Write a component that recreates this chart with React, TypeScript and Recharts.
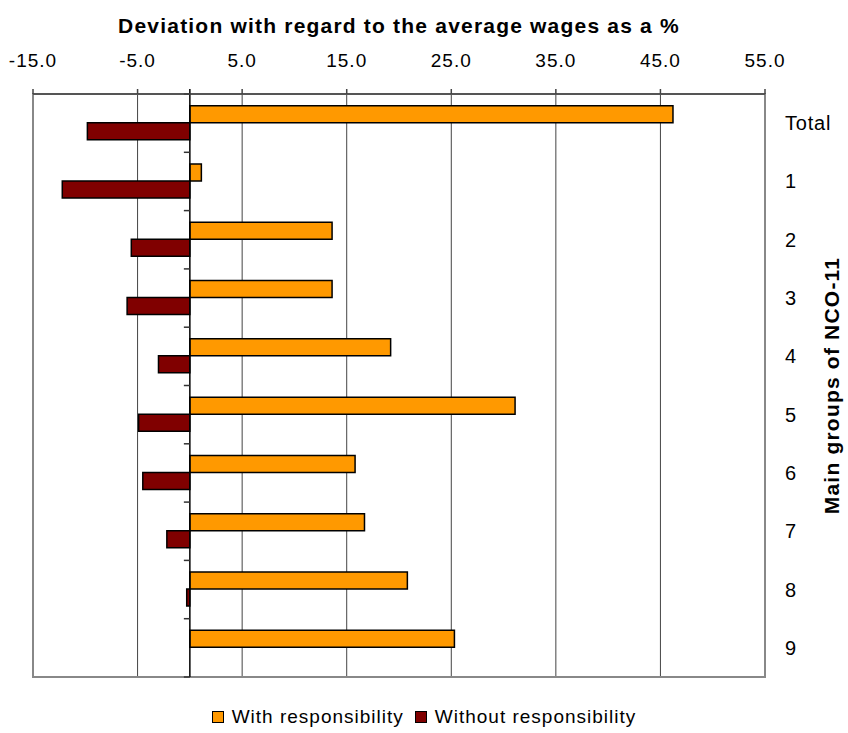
import React from 'react';
import { BarChart, Bar, XAxis, YAxis, CartesianGrid, Legend, ReferenceLine, ReferenceArea, Label } from 'recharts';

const categories = ['Total', '1', '2', '3', '4', '5', '6', '7', '8', '9'];
const withResponsibility = [46.2, 1.1, 13.6, 13.6, 19.2, 31.1, 15.8, 16.7, 20.8, 25.3];
const withoutResponsibility: (number | null)[] = [-9.8, -12.2, -5.6, -6.0, -3.0, -4.9, -4.5, -2.2, -0.3, null];
const xTicks = [-15, -5, 5, 15, 25, 35, 45, 55];
const seriesNames = ['With responsibility', 'Without responsibility'];
const seriesColors = ['#FF9900', '#800000'];

const xTitle = 'Deviation with regard to the average wages as a %';
const yTitle = 'Main groups of NCO-11';

const data = categories.map((name, i) => ({
  name,
  withResp: withResponsibility[i],
  withoutResp: withoutResponsibility[i],
}));

const FONT = '"Liberation Sans", Arial, sans-serif';

// zero line with short tick marks at the category boundaries
const ZeroAxis = (props: any) => {
  const { x1, y1, y2 } = props;
  const step = (y2 - y1) / categories.length;
  const marks = [];
  for (let i = 0; i <= categories.length; i++) {
    const y = y1 + i * step;
    marks.push(<line key={i} x1={x1 - 6} y1={y} x2={x1} y2={y} stroke="#333" strokeWidth={1.5} />);
  }
  return (
    <g>
      <line x1={x1} y1={y1 - 5} x2={x1} y2={y2} stroke="#000" strokeWidth={1.5} />
      {marks}
    </g>
  );
};

const CategoryTick = (props: any) => {
  const { x, y, payload } = props;
  return (
    <text x={x + 20} y={y} dy={7} textAnchor="start" fontSize={20} letterSpacing={0.8} fill="#000" fontFamily={FONT}>
      {payload.value}
    </text>
  );
};

const renderLegend = () => (
  <div style={{ display: 'flex', justifyContent: 'center', alignItems: 'center', fontSize: 19, letterSpacing: 1, fontFamily: FONT, height: 22, color: '#000' }}>
    {seriesNames.map((n, i) => (
      <span key={n} style={{ display: 'flex', alignItems: 'center', marginRight: i === 0 ? 11 : 0 }}>
        <span style={{ width: 10, height: 10, background: seriesColors[i], border: '1.5px solid #000', marginRight: 8 }} />
        {n}
      </span>
    ))}
  </div>
);

export default function App() {
  return (
    <div style={{ position: 'absolute', left: 0, top: 0, background: '#fff' }}>
      <BarChart
        width={848}
        height={733}
        data={data}
        layout="vertical"
        margin={{ top: 0, right: 0, left: 33, bottom: 34 }}
        barCategoryGap="20%"
        barGap={0}
        style={{ fontFamily: FONT }}
      >
        <CartesianGrid horizontal={false} stroke="#444" strokeWidth={1} />
        <ReferenceArea x1={-15} x2={55} fill="none" stroke="#888" strokeWidth={2} fillOpacity={0} />
        <XAxis
          type="number"
          orientation="top"
          domain={[-15, 55]}
          ticks={xTicks}
          allowDataOverflow
          height={94}
          tickFormatter={(v: number) => v.toFixed(1)}
          tick={{ fill: '#000', fontSize: 19, letterSpacing: 1 }}
          tickSize={5}
          tickMargin={22}
          stroke="#444"
          strokeWidth={1.5}
        >
          <Label
            content={(p: any) => {
              const vb = p.viewBox;
              return (
                <text x={vb.x + vb.width / 2} y={vb.y + 33} textAnchor="middle" fontWeight="bold" fontSize={21} letterSpacing={1.2} fill="#000" fontFamily={FONT}>
                  {xTitle}
                </text>
              );
            }}
          />
        </XAxis>
        <YAxis
          type="category"
          dataKey="name"
          orientation="right"
          width={83}
          axisLine={false}
          tickLine={false}
          tickSize={0}
          tickMargin={0}
          tick={<CategoryTick />}
        >
          <Label
            content={(p: any) => {
              const vb = p.viewBox;
              const cx = vb.x + vb.width - 17;
              const cy = vb.y + vb.height / 2;
              return (
                <text x={cx} y={cy} dy={7.5} textAnchor="middle" fontWeight="bold" fontSize={21} letterSpacing={1.2} fill="#000" fontFamily={FONT} transform={`rotate(-90, ${cx}, ${cy})`}>
                  {yTitle}
                </text>
              );
            }}
          />
        </YAxis>
        <Bar dataKey="withResp" name={seriesNames[0]} fill={seriesColors[0]} stroke="#000" strokeWidth={1.5} isAnimationActive={false} />
        <Bar dataKey="withoutResp" name={seriesNames[1]} fill={seriesColors[1]} stroke="#000" strokeWidth={1.5} isAnimationActive={false} />
        <ReferenceLine x={0} shape={<ZeroAxis />} />
        <Legend content={renderLegend} wrapperStyle={{ left: 0, width: 848, bottom: 5 }} />
      </BarChart>
    </div>
  );
}
